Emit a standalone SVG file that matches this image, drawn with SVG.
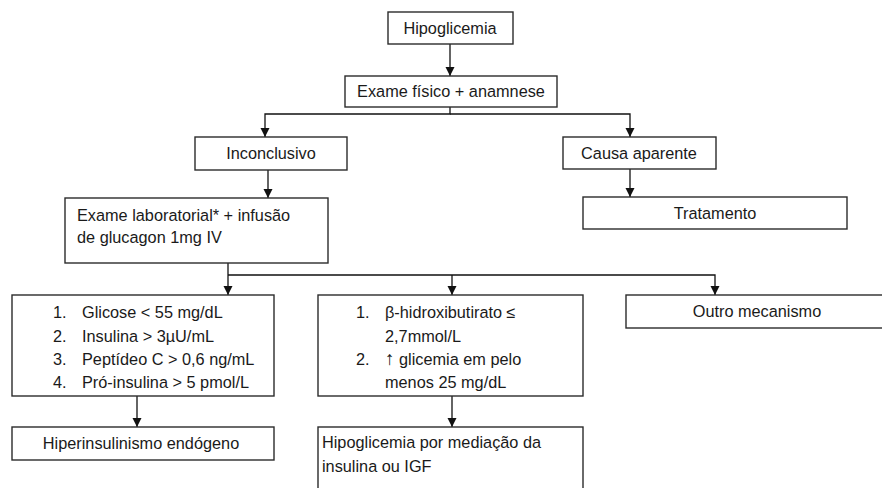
<svg xmlns="http://www.w3.org/2000/svg" width="882" height="488" viewBox="0 0 882 488">
<defs>
<marker id="ah" markerWidth="10" markerHeight="10" refX="9" refY="5" orient="auto" markerUnits="userSpaceOnUse">
<path d="M0,0.5 L9,5 L0,9.5 Z" fill="#111"/>
</marker>
<style>
.box{fill:#fff;stroke:#2b2b2b;stroke-width:1.4}
.t{font-family:"Liberation Sans",Arial,sans-serif;font-size:16.3px;fill:#1a1a1a}
.c{text-anchor:middle}
.ln{fill:none;stroke:#111;stroke-width:1.3}
</style>
</defs>
<rect width="882" height="488" fill="#fff"/>
<g id="connectors">
<path class="ln" d="M450,44 V76" marker-end="url(#ah)"/>
<path class="ln" d="M450,107 V114 H265 V137" marker-end="url(#ah)"/>
<path class="ln" d="M450,114 H630 V137" marker-end="url(#ah)"/>
<path class="ln" d="M268,170 V198" marker-end="url(#ah)"/>
<path class="ln" d="M630,169 V197" marker-end="url(#ah)"/>
<path class="ln" d="M228,263 V275 V295" marker-end="url(#ah)"/>
<path class="ln" d="M228,275 H715 V295" marker-end="url(#ah)"/>
<path class="ln" d="M452,275 V295" marker-end="url(#ah)"/>
<path class="ln" d="M137,396 V427" marker-end="url(#ah)"/>
<path class="ln" d="M452,396 V427" marker-end="url(#ah)"/>
</g>
<g id="n_hipoglicemia">
<rect class="box" x="388" y="12" width="125" height="32"/>
<text class="t c" x="450" y="34">Hipoglicemia</text>
</g>
<g id="n_exame_fisico">
<rect class="box" x="345" y="76" width="212" height="31"/>
<text class="t c" x="451" y="97">Exame físico + anamnese</text>
</g>
<g id="n_inconclusivo">
<rect class="box" x="195" y="137" width="152" height="33"/>
<text class="t c" x="271" y="159">Inconclusivo</text>
</g>
<g id="n_causa">
<rect class="box" x="563" y="137" width="153" height="32"/>
<text class="t c" x="639" y="159">Causa aparente</text>
</g>
<g id="n_tratamento">
<rect class="box" x="583" y="197" width="264" height="32"/>
<text class="t c" x="715" y="219">Tratamento</text>
</g>
<g id="n_exame_lab">
<rect class="box" x="65" y="198" width="263" height="65"/>
<text class="t" x="77" y="221">Exame laboratorial* + infusão</text>
<text class="t" x="77" y="243">de glucagon 1mg IV</text>
</g>
<g id="n_criterios1">
<rect class="box" x="12" y="295" width="262" height="101"/>
<text class="t" x="53" y="318">1.</text><text class="t" x="82" y="318">Glicose &lt; 55 mg/dL</text>
<text class="t" x="53" y="342">2.</text><text class="t" x="82" y="342">Insulina &gt; 3µU/mL</text>
<text class="t" x="53" y="365">3.</text><text class="t" x="82" y="365">Peptídeo C &gt; 0,6 ng/mL</text>
<text class="t" x="53" y="388">4.</text><text class="t" x="82" y="388">Pró-insulina &gt; 5 pmol/L</text>
</g>
<g id="n_criterios2">
<rect class="box" x="318" y="295" width="265" height="101"/>
<text class="t" x="356" y="318">1.</text><text class="t" x="385" y="318">β-hidroxibutirato ≤</text>
<text class="t" x="385" y="342">2,7mmol/L</text>
<text class="t" x="356" y="365">2.</text><text class="t" x="385" y="365"><tspan font-size="19">↑</tspan> glicemia em pelo</text>
<text class="t" x="385" y="388">menos 25 mg/dL</text>
</g>
<g id="n_outro">
<rect class="box" x="626" y="295" width="262" height="33"/>
<text class="t c" x="757" y="317">Outro mecanismo</text>
</g>
<g id="n_hiperinsulinismo">
<rect class="box" x="12" y="427" width="262" height="33"/>
<text class="t c" x="141" y="449">Hiperinsulinismo endógeno</text>
</g>
<g id="n_mediacao">
<rect class="box" x="318" y="427" width="265" height="70"/>
<text class="t" x="322" y="448">Hipoglicemia  por mediação da</text>
<text class="t" x="322" y="472">insulina ou IGF</text>
</g>
</svg>
